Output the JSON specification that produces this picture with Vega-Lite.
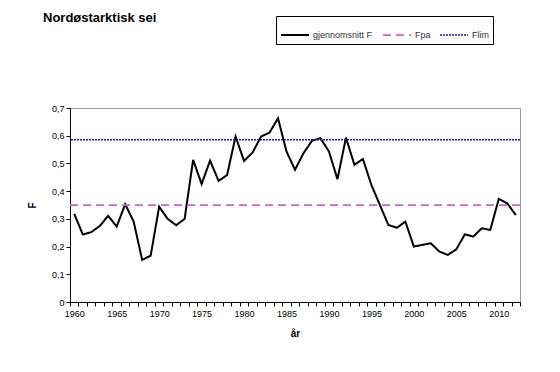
{
  "$schema": "https://vega.github.io/schema/vega-lite/v6.json",
  "autosize": {"type": "none"},
  "width": 450,
  "height": 194,
  "padding": {"left": 70, "top": 108, "right": 40, "bottom": 70},
  "background": "white",
  "title": {
    "text": "Nordøstarktisk sei",
    "anchor": "start",
    "frame": "group",
    "dx": -27,
    "dy": 9,
    "offset": 0,
    "font": "Liberation Sans",
    "fontSize": 13,
    "fontWeight": "bold",
    "color": "black"
  },
  "datasets": {
    "main": [
      {"year": 1960, "F": 0.318, "serie": "gjennomsnitt F"},
      {"year": 1961, "F": 0.244, "serie": "gjennomsnitt F"},
      {"year": 1962, "F": 0.252, "serie": "gjennomsnitt F"},
      {"year": 1963, "F": 0.274, "serie": "gjennomsnitt F"},
      {"year": 1964, "F": 0.311, "serie": "gjennomsnitt F"},
      {"year": 1965, "F": 0.272, "serie": "gjennomsnitt F"},
      {"year": 1966, "F": 0.353, "serie": "gjennomsnitt F"},
      {"year": 1967, "F": 0.290, "serie": "gjennomsnitt F"},
      {"year": 1968, "F": 0.152, "serie": "gjennomsnitt F"},
      {"year": 1969, "F": 0.167, "serie": "gjennomsnitt F"},
      {"year": 1970, "F": 0.344, "serie": "gjennomsnitt F"},
      {"year": 1971, "F": 0.300, "serie": "gjennomsnitt F"},
      {"year": 1972, "F": 0.277, "serie": "gjennomsnitt F"},
      {"year": 1973, "F": 0.300, "serie": "gjennomsnitt F"},
      {"year": 1974, "F": 0.513, "serie": "gjennomsnitt F"},
      {"year": 1975, "F": 0.426, "serie": "gjennomsnitt F"},
      {"year": 1976, "F": 0.510, "serie": "gjennomsnitt F"},
      {"year": 1977, "F": 0.437, "serie": "gjennomsnitt F"},
      {"year": 1978, "F": 0.458, "serie": "gjennomsnitt F"},
      {"year": 1979, "F": 0.597, "serie": "gjennomsnitt F"},
      {"year": 1980, "F": 0.509, "serie": "gjennomsnitt F"},
      {"year": 1981, "F": 0.539, "serie": "gjennomsnitt F"},
      {"year": 1982, "F": 0.597, "serie": "gjennomsnitt F"},
      {"year": 1983, "F": 0.611, "serie": "gjennomsnitt F"},
      {"year": 1984, "F": 0.663, "serie": "gjennomsnitt F"},
      {"year": 1985, "F": 0.543, "serie": "gjennomsnitt F"},
      {"year": 1986, "F": 0.477, "serie": "gjennomsnitt F"},
      {"year": 1987, "F": 0.537, "serie": "gjennomsnitt F"},
      {"year": 1988, "F": 0.582, "serie": "gjennomsnitt F"},
      {"year": 1989, "F": 0.591, "serie": "gjennomsnitt F"},
      {"year": 1990, "F": 0.543, "serie": "gjennomsnitt F"},
      {"year": 1991, "F": 0.443, "serie": "gjennomsnitt F"},
      {"year": 1992, "F": 0.593, "serie": "gjennomsnitt F"},
      {"year": 1993, "F": 0.495, "serie": "gjennomsnitt F"},
      {"year": 1994, "F": 0.516, "serie": "gjennomsnitt F"},
      {"year": 1995, "F": 0.422, "serie": "gjennomsnitt F"},
      {"year": 1996, "F": 0.350, "serie": "gjennomsnitt F"},
      {"year": 1997, "F": 0.278, "serie": "gjennomsnitt F"},
      {"year": 1998, "F": 0.268, "serie": "gjennomsnitt F"},
      {"year": 1999, "F": 0.290, "serie": "gjennomsnitt F"},
      {"year": 2000, "F": 0.200, "serie": "gjennomsnitt F"},
      {"year": 2001, "F": 0.206, "serie": "gjennomsnitt F"},
      {"year": 2002, "F": 0.212, "serie": "gjennomsnitt F"},
      {"year": 2003, "F": 0.182, "serie": "gjennomsnitt F"},
      {"year": 2004, "F": 0.170, "serie": "gjennomsnitt F"},
      {"year": 2005, "F": 0.190, "serie": "gjennomsnitt F"},
      {"year": 2006, "F": 0.244, "serie": "gjennomsnitt F"},
      {"year": 2007, "F": 0.236, "serie": "gjennomsnitt F"},
      {"year": 2008, "F": 0.266, "serie": "gjennomsnitt F"},
      {"year": 2009, "F": 0.260, "serie": "gjennomsnitt F"},
      {"year": 2010, "F": 0.372, "serie": "gjennomsnitt F"},
      {"year": 2011, "F": 0.356, "serie": "gjennomsnitt F"},
      {"year": 2012, "F": 0.314, "serie": "gjennomsnitt F"}
    ],
    "refs": [
      {"serie": "Fpa", "F": 0.35},
      {"serie": "Flim", "F": 0.585}
    ]
  },
  "encoding": {
    "y": {
      "field": "F",
      "type": "quantitative",
      "scale": {"domain": [0, 0.7], "nice": false},
      "axis": {
        "title": "F",
        "values": [0, 0.1, 0.2, 0.3, 0.4, 0.5, 0.6, 0.7],
        "labelExpr": "datum.value == 0 ? '0' : replace(format(datum.value, '.1f'), '.', ',')",
        "labelOverlap": false,
        "titlePadding": 14
      }
    },
    "color": {
      "field": "serie",
      "type": "nominal",
      "scale": {"domain": ["gjennomsnitt F", "Fpa", "Flim"], "range": ["#000000", "#CC66CC", "#1a1aa6"]},
      "legend": {
        "title": null,
        "orient": "none",
        "legendX": 206,
        "legendY": -92,
        "direction": "horizontal",
        "symbolType": "stroke",
        "symbolSize": 784,
        "strokeColor": "black",
        "padding": 4,
        "columnPadding": 6,
        "labelFont": "Liberation Sans",
        "labelFontSize": 9,
        "labelColor": "#333333",
        "labelOffset": 3
      }
    },
    "strokeDash": {
      "field": "serie",
      "type": "nominal",
      "scale": {"domain": ["gjennomsnitt F", "Fpa", "Flim"], "range": [[1, 0], [8, 5], [2, 1]]}
    },
    "strokeWidth": {
      "field": "serie",
      "type": "nominal",
      "scale": {"domain": ["gjennomsnitt F", "Fpa", "Flim"], "range": [2, 1.5, 1]}
    }
  },
  "layer": [
    {
      "data": {"name": "main"},
      "mark": {"type": "line"},
      "encoding": {
        "x": {
          "field": "year",
          "type": "quantitative",
          "scale": {"domain": [1959.5, 2012.5], "nice": false, "zero": false},
          "axis": {
            "title": "år",
            "values": [1959.5,1960.5,1961.5,1962.5,1963.5,1964.5,1965.5,1966.5,1967.5,1968.5,1969.5,1970.5,1971.5,1972.5,1973.5,1974.5,1975.5,1976.5,1977.5,1978.5,1979.5,1980.5,1981.5,1982.5,1983.5,1984.5,1985.5,1986.5,1987.5,1988.5,1989.5,1990.5,1991.5,1992.5,1993.5,1994.5,1995.5,1996.5,1997.5,1998.5,1999.5,2000.5,2001.5,2002.5,2003.5,2004.5,2005.5,2006.5,2007.5,2008.5,2009.5,2010.5,2011.5,2012.5],
            "labelExpr": "(datum.value + 0.5) % 5 == 0 ? '' + (datum.value + 0.5) : ''",
            "labelOffset": 4.25,
            "labelOverlap": false,
            "labelFlush": false,
            "labelPadding": 3,
            "titlePadding": 10
          }
        }
      }
    },
    {
      "data": {"name": "refs"},
      "mark": {"type": "rule"},
      "encoding": {}
    }
  ],
  "config": {
    "view": {"stroke": "#9a9a9a", "strokeWidth": 1},
    "axis": {
      "grid": false,
      "domainColor": "black",
      "tickColor": "black",
      "tickSize": 4,
      "labelFont": "Liberation Sans",
      "labelFontSize": 9,
      "labelColor": "black",
      "titleFont": "Liberation Sans",
      "titleFontSize": 10,
      "titleFontWeight": "bold",
      "titleColor": "black"
    }
  }
}
